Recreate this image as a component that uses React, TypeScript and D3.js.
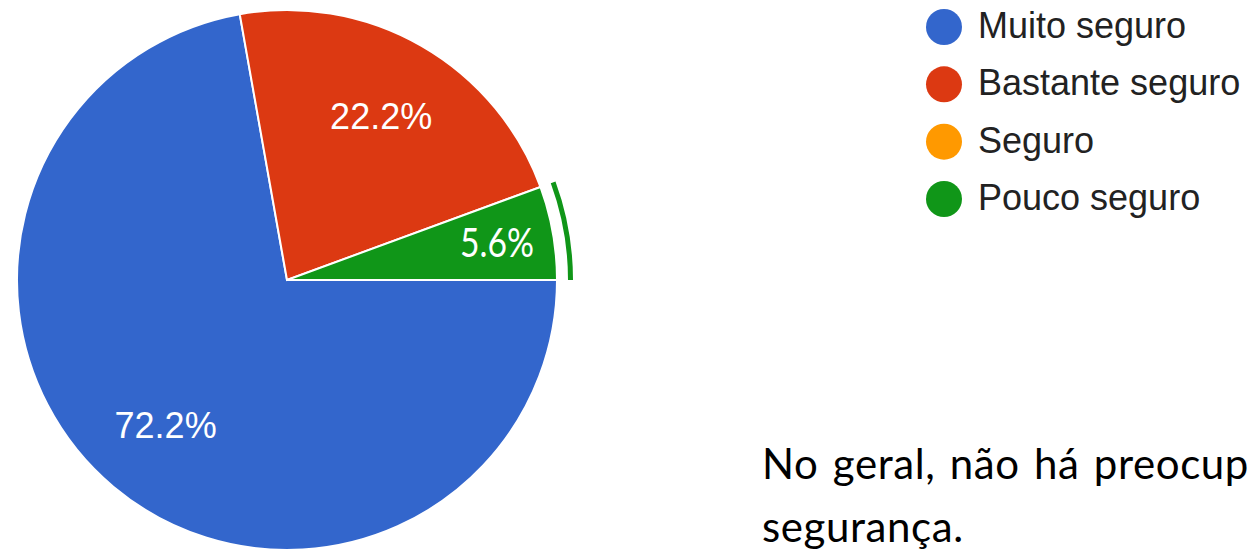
import React from "react";
import * as d3 from "d3";

const categories = ["Muito seguro", "Bastante seguro", "Seguro", "Pouco seguro"];
const values = [72.2, 22.2, 0, 5.6];
const colors = ["#3366cc", "#dc3912", "#ff9900", "#109618"];
const noteLines = ["No geral, não há preocupação com a", "segurança."];

const W = 1248;
const H = 550;
const cx = 287;
const cy = 280;
const R = 270;

export default function App() {
  const pie = d3
    .pie<number>()
    .sort(null)
    .value((d) => d)
    .startAngle(Math.PI / 2)
    .endAngle(Math.PI / 2 + 2 * Math.PI);
  const arcs = pie(values);
  const arcGen = d3.arc<d3.PieArcDatum<number>>().innerRadius(0).outerRadius(R);
  const ringGen = d3.arc<d3.PieArcDatum<number>>().innerRadius(R + 11).outerRadius(R + 16);

  const labelPos = (a: d3.PieArcDatum<number>, f: number) => {
    const m = (a.startAngle + a.endAngle) / 2;
    return [Math.sin(m) * R * f, -Math.cos(m) * R * f];
  };

  const legendY = d3.scalePoint<string>().domain(categories).range([27, 199]);

  return (
    <div style={{ position: "absolute", left: 0, top: 0, width: W, height: H, overflow: "hidden", background: "#fff" }}>
      <svg width={W} height={H} style={{ display: "block" }}>
        <g transform={`translate(${cx},${cy})`}>
          {arcs.map((a, i) =>
            a.value > 0 ? (
              <path key={i} d={arcGen(a) || ""} fill={colors[i]} stroke="#fff" strokeWidth={2} />
            ) : null
          )}
          {arcs[3] && <path d={ringGen(arcs[3]) || ""} fill={colors[3]} />}
          {arcs.map((a, i) => {
            if (a.value <= 0) return null;
            const small = i === 3;
            const [x, y] = labelPos(a, small ? 0.79 : 0.7);
            return small ? (
              <text
                key={"l" + i}
                x={x}
                y={y + 14}
                textAnchor="middle"
                fill="#fff"
                fontFamily="Lato, 'Open Sans', sans-serif"
                fontSize={40}
                textLength={74}
                lengthAdjust="spacingAndGlyphs"
              >
                {a.value.toFixed(1)}%
              </text>
            ) : (
              <text
                key={"l" + i}
                x={x}
                y={y + 13}
                textAnchor="middle"
                fill="#fff"
                fontFamily="Arial, 'Liberation Sans', sans-serif"
                fontSize={36}
              >
                {a.value.toFixed(1)}%
              </text>
            );
          })}
        </g>
        <g>
          {categories.map((c, i) => (
            <g key={c} transform={`translate(944,${legendY(c)})`}>
              <circle r={18} fill={colors[i]} />
              <text x={34} y={11} fontFamily="Arial, 'Liberation Sans', sans-serif" fontSize={36} fill="#222">
                {c}
              </text>
            </g>
          ))}
        </g>
        <g fontFamily="Lato, 'Open Sans', sans-serif" fontSize={42} fill="#000" wordSpacing={3} letterSpacing={0.6}>
          {noteLines.map((t, i) => (
            <text key={i} x={762} y={479 + i * 63}>
              {t}
            </text>
          ))}
        </g>
      </svg>
    </div>
  );
}
